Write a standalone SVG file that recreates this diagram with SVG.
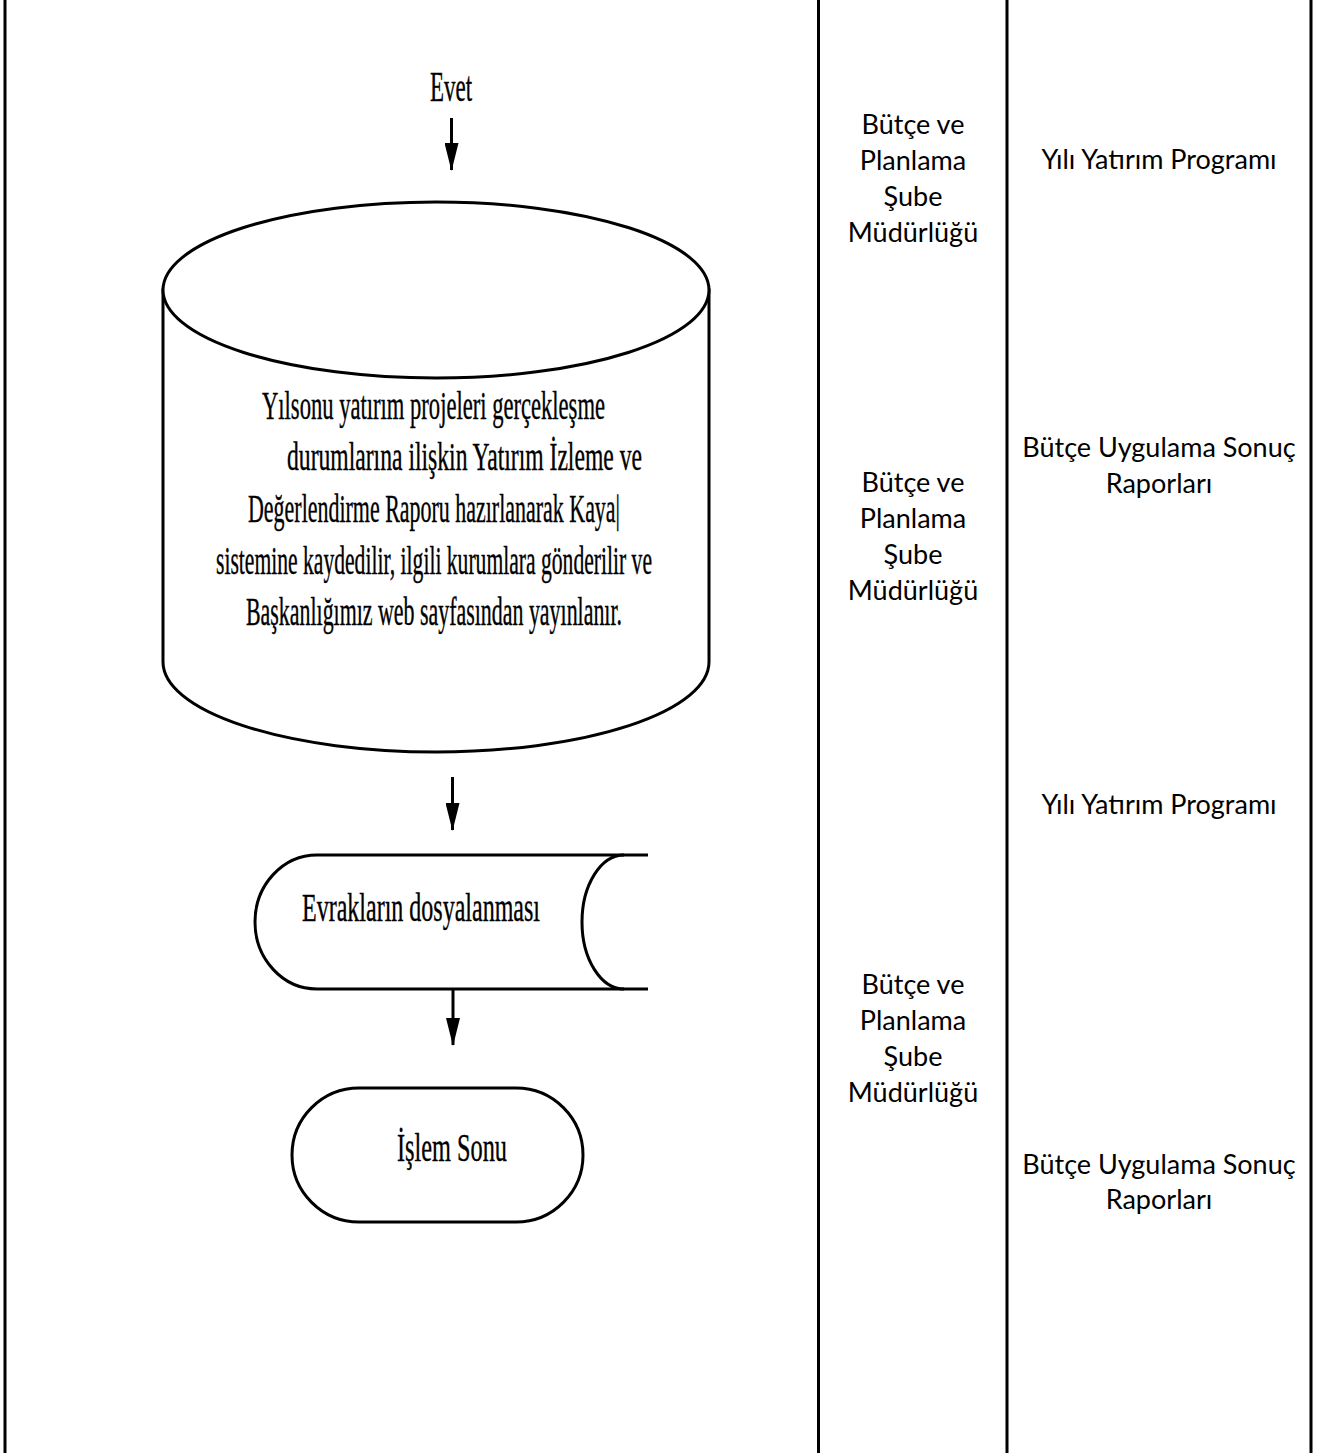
<svg xmlns="http://www.w3.org/2000/svg" width="1332" height="1453" viewBox="0 0 1332 1453">
<style>
.shape{fill:#fff;stroke:#000;stroke-width:3}
.grid{stroke:#000;stroke-width:3}
.conn{stroke:#000;stroke-width:3;fill:none}
.serif{font-family:"Liberation Serif","Times New Roman",serif;fill:#000;stroke:#000;stroke-width:0.4}
.sans{font-family:Lato,"Liberation Sans",sans-serif;font-size:27px;fill:#000;text-anchor:middle}
</style>
<defs>
<marker id="ah" markerUnits="userSpaceOnUse" markerWidth="28" markerHeight="14" viewBox="0 0 28 14" refX="27" refY="7" orient="auto">
<path d="M0,0 L28,7 L0,14 z" fill="#000"/>
</marker>
</defs>
<rect width="1332" height="1453" fill="#fff"/>
<g id="table">
<line class="grid" x1="5" y1="0" x2="5" y2="1453"/>
<line class="grid" x1="818.5" y1="0" x2="818.5" y2="1453"/>
<line class="grid" x1="1007" y1="0" x2="1007" y2="1453"/>
<line class="grid" x1="1311" y1="0" x2="1311" y2="1453"/>
</g>
<g id="evet">
<text class="serif" x="430" y="101" font-size="42" textLength="42" lengthAdjust="spacingAndGlyphs">Evet</text>
</g>
<g id="connectors">
<line class="conn" x1="451.5" y1="118" x2="451.5" y2="170" marker-end="url(#ah)"/>
<line class="conn" x1="452.5" y1="777" x2="452.5" y2="830" marker-end="url(#ah)"/>
<line class="conn" x1="453" y1="990" x2="453" y2="1045" marker-end="url(#ah)"/>
</g>
<g id="cylinder">
<path class="shape" d="M163,290 L163,662 A273,90 0 0 0 709,662 L709,290 Z"/>
<ellipse class="shape" cx="436" cy="290" rx="273" ry="88"/>
<text class="serif" font-size="40" x="262" y="419" textLength="343" lengthAdjust="spacingAndGlyphs">Yılsonu yatırım projeleri gerçekleşme</text>
<text class="serif" font-size="40" x="287" y="470" textLength="355" lengthAdjust="spacingAndGlyphs">durumlarına ilişkin Yatırım İzleme ve</text>
<text class="serif" font-size="40" x="248" y="522" textLength="372" lengthAdjust="spacingAndGlyphs">Değerlendirme Raporu hazırlanarak Kaya|</text>
<text class="serif" font-size="40" x="216" y="574" textLength="436" lengthAdjust="spacingAndGlyphs">sistemine kaydedilir, ilgili kurumlara gönderilir ve</text>
<text class="serif" font-size="40" x="246" y="625" textLength="376" lengthAdjust="spacingAndGlyphs">Başkanlığımız web sayfasından yayınlanır.</text>
</g>
<g id="evraklar">
<path class="shape" d="M648,855 L317,855 A62,67 0 0 0 317,989 L648,989"/>
<path class="conn" d="M624,855 A42,67 0 0 0 624,989"/>
<text class="serif" font-size="41" x="302" y="921" textLength="238" lengthAdjust="spacingAndGlyphs">Evrakların dosyalanması</text>
</g>
<g id="islemsonu">
<rect class="shape" x="292" y="1088" width="291" height="134" rx="67" ry="67"/>
<text class="serif" font-size="39" x="397" y="1161" textLength="110" lengthAdjust="spacingAndGlyphs">İşlem Sonu</text>
</g>
<g id="col2">
<text class="sans" x="913" y="134">Bütçe ve</text>
<text class="sans" x="913" y="170">Planlama</text>
<text class="sans" x="913" y="206">Şube</text>
<text class="sans" x="913" y="242">Müdürlüğü</text>
<text class="sans" x="913" y="492">Bütçe ve</text>
<text class="sans" x="913" y="528">Planlama</text>
<text class="sans" x="913" y="564">Şube</text>
<text class="sans" x="913" y="600">Müdürlüğü</text>
<text class="sans" x="913" y="994">Bütçe ve</text>
<text class="sans" x="913" y="1030">Planlama</text>
<text class="sans" x="913" y="1066">Şube</text>
<text class="sans" x="913" y="1102">Müdürlüğü</text>
</g>
<g id="col3">
<text class="sans" x="1159" y="169">Yılı Yatırım Programı</text>
<text class="sans" x="1159" y="457">Bütçe Uygulama Sonuç</text>
<text class="sans" x="1159" y="493">Raporları</text>
<text class="sans" x="1159" y="814">Yılı Yatırım Programı</text>
<text class="sans" x="1159" y="1174">Bütçe Uygulama Sonuç</text>
<text class="sans" x="1159" y="1209">Raporları</text>
</g>
</svg>
